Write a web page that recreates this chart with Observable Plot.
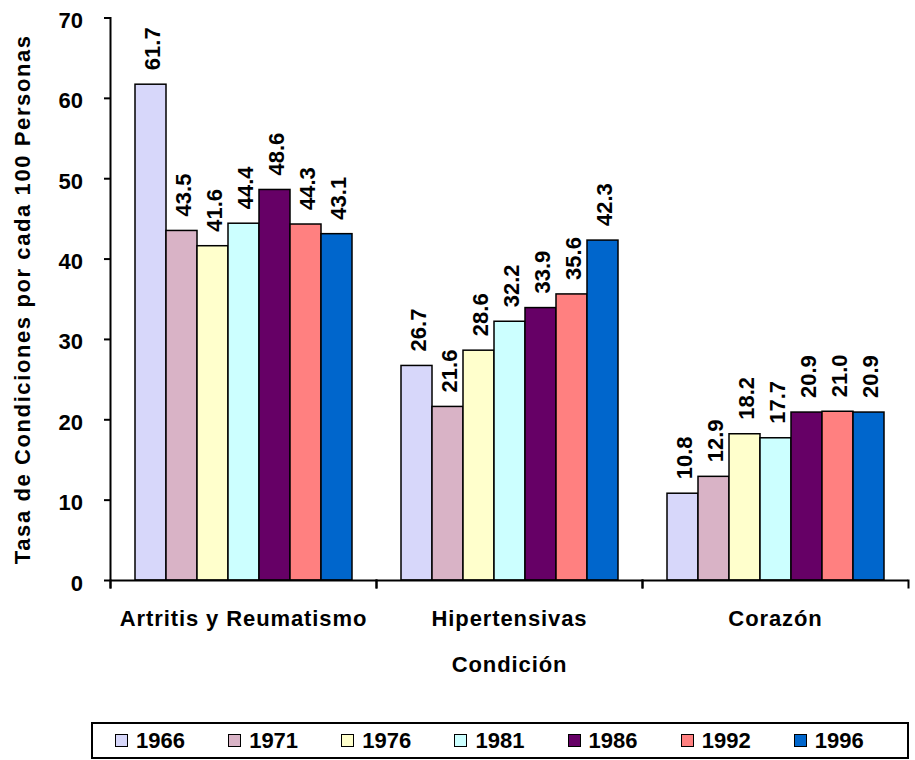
<!DOCTYPE html>
<html>
<head>
<meta charset="utf-8">
<script src="https://cdn.jsdelivr.net/npm/d3@7"></script>
<script src="https://cdn.jsdelivr.net/npm/@observablehq/plot@0.6"></script>
<style>
  body { margin: 0; background: #fff; font-family: "Liberation Sans", Arial, sans-serif; }
  #wrap { position: relative; width: 915px; height: 760px; }
  #chart { position: absolute; left: 0; top: 0; }
  #legend { position: absolute; left: 91px; top: 722px; width: 818px; height: 37px; border: 2px solid #000;
            box-sizing: border-box; display: flex; align-items: center; padding-left: 22px; background: #fff; }
  .item { width: 118px; display: flex; align-items: center; font-weight: bold; font-size: 22px; color: #000; }
  .sw { width: 13px; height: 13px; border: 1.5px solid #000; box-sizing: border-box; margin-right: 8px; }
  g[aria-label="y-axis label"] text { letter-spacing: 1.6px; }
  g[aria-label="fx-axis tick label"] text { letter-spacing: 0.9px; }
  g[aria-label="fx-axis label"] text { letter-spacing: 0.9px; }
</style>
</head>
<body>
<div id="wrap">
  <div id="chart"></div>
  <div id="legend"></div>
</div>
<script>
const categories = ["Artritis y Reumatismo", "Hipertensivas", "Corazón"];
const years = ["1966", "1971", "1976", "1981", "1986", "1992", "1996"];
const artritis = [61.7, 43.5, 41.6, 44.4, 48.6, 44.3, 43.1];
const hipertensivas = [26.7, 21.6, 28.6, 32.2, 33.9, 35.6, 42.3];
const corazon = [10.8, 12.9, 18.2, 17.7, 20.9, 21.0, 20.9];
const colors = ["#D7D7FA", "#D9B3C6", "#FFFFCC", "#CCFFFF", "#660066", "#FF8080", "#0066CC"];
const yTicks = [0, 10, 20, 30, 40, 50, 60, 70];
const yTitle = "Tasa de Condiciones por cada 100 Personas";
const xTitle = "Condición";

const series = [artritis, hipertensivas, corazon];
const data = categories.flatMap((c, i) => years.map((y, j) => ({cond: c, year: y, value: series[i][j]})));

const chart = Plot.plot({
  width: 915,
  height: 700,
  marginLeft: 109,
  marginRight: 6,
  marginTop: 17.5,
  marginBottom: 120,
  style: {fontFamily: '"Liberation Sans", Arial, sans-serif', fontSize: "22px", fontWeight: "bold", color: "#000", background: "#fff"},
  fx: {domain: categories, padding: 0},
  x: {domain: years, paddingInner: 0, paddingOuter: 0.755, axis: null},
  y: {domain: [0, 70]},
  color: {domain: years, range: colors},
  marks: [
    Plot.barY(data, {fx: "cond", x: "year", y: "value", fill: "year", stroke: "#000", strokeWidth: 1.5}),
    Plot.text(data, {fx: "cond", x: "year", y: "value", text: d => d.value.toFixed(1), rotate: -90,
      textAnchor: "start", lineAnchor: "middle", dy: -14.5, dx: 2, fontSize: 22, fontWeight: "bold", fill: "#000"}),
    Plot.ruleY([0], {stroke: "#000", strokeWidth: 2}),
    Plot.frame({anchor: "left", fx: () => categories[0], insetBottom: -7, stroke: "#000", strokeWidth: 2}),
    Plot.frame({anchor: "left", insetTop: 562.5, insetBottom: -7, stroke: "#000", strokeWidth: 2}),
    Plot.frame({anchor: "right", insetTop: 562.5, insetBottom: -7, stroke: "#000", strokeWidth: 2}),
    Plot.axisY({ticks: yTicks, tickSize: 6, tickFormat: () => "", strokeWidth: 2, label: null}),
    Plot.axisY({ticks: yTicks, tickSize: 0, tickPadding: 27.5, dy: 3, label: yTitle, labelAnchor: "center", labelOffset: 96, labelArrow: "none"}),
    Plot.axisFx({anchor: "bottom", tickSize: 0, tickPadding: 30, label: xTitle, labelAnchor: "center", labelOffset: 91, labelArrow: "none"})
  ]
});
document.getElementById("chart").appendChild(chart);

const colorScale = chart.scale("color");
const legend = d3.select("#legend");
colorScale.domain.forEach((yr, i) => {
  const item = legend.append("div").attr("class", "item");
  item.append("div").attr("class", "sw").style("background", colorScale.range[i]);
  item.append("span").text(yr);
});
</script>
</body>
</html>
